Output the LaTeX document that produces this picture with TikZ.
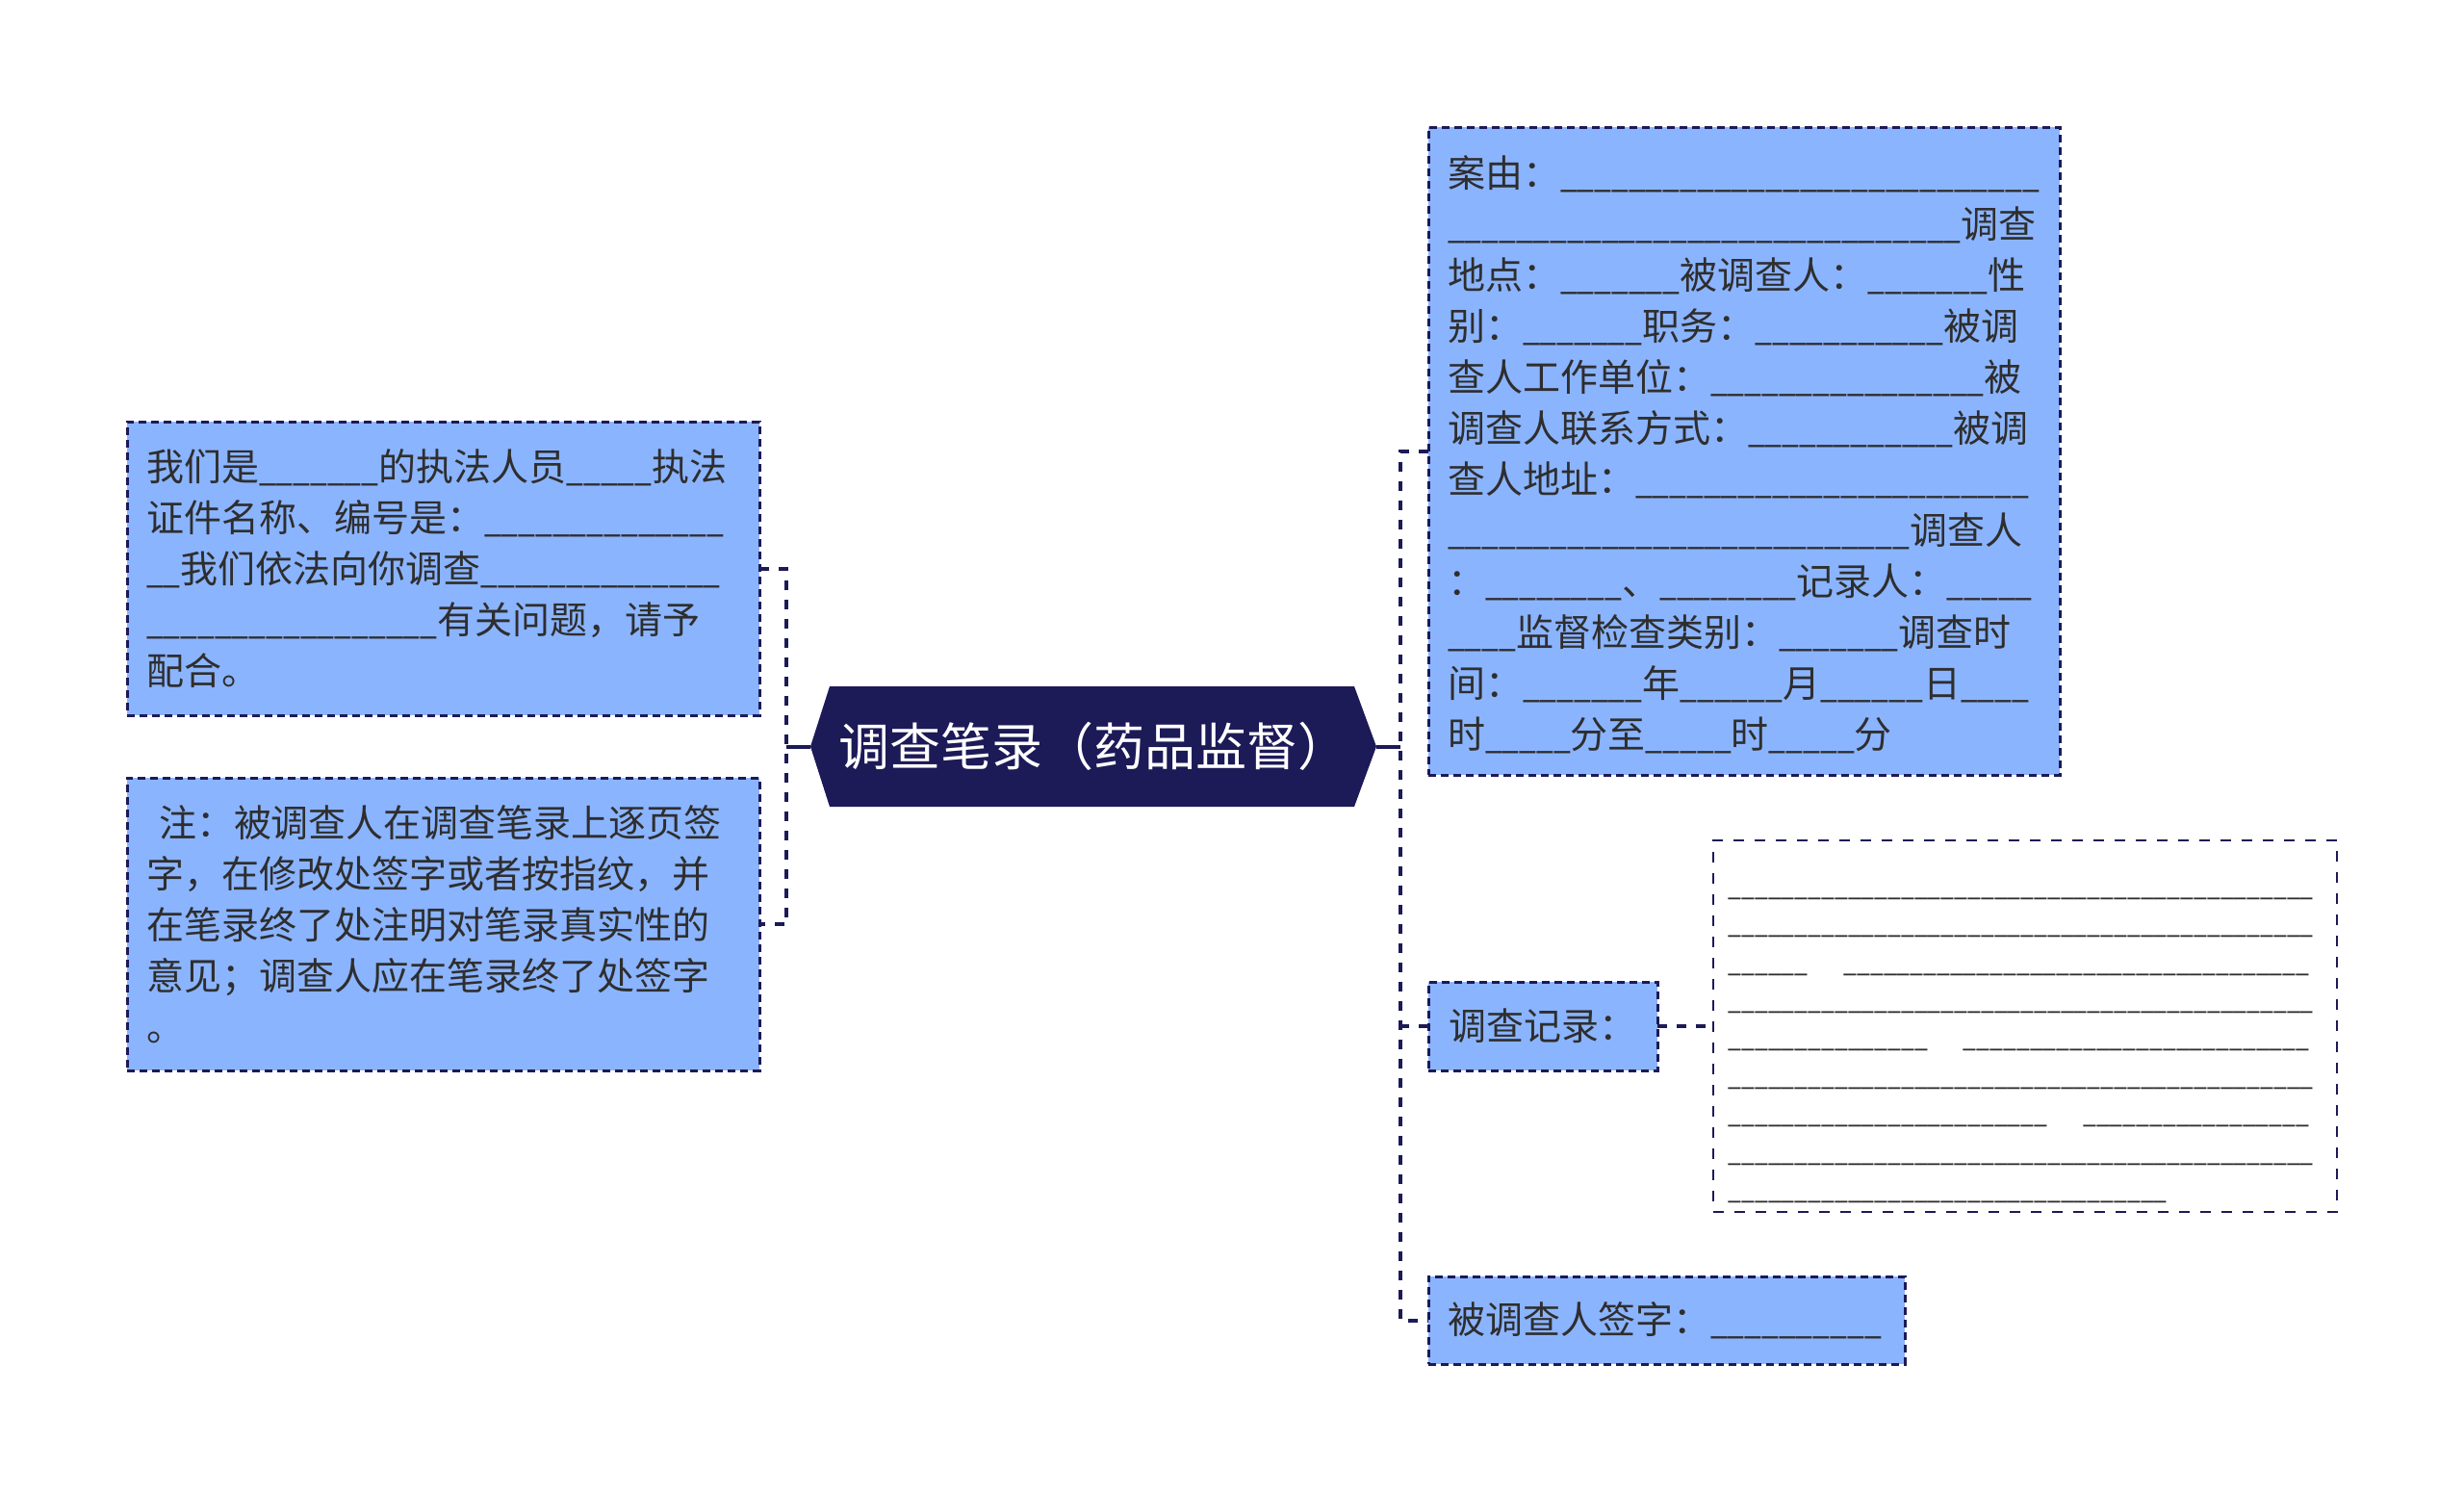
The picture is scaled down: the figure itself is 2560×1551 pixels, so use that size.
\documentclass[tikz,border=0pt]{standalone}
\usepackage{fontspec}
\setmainfont{Noto Sans CJK SC}
\usetikzlibrary{backgrounds}
\definecolor{navy}{HTML}{1C1A57}
\definecolor{boxblue}{HTML}{8BB4FE}
\definecolor{txt}{HTML}{2E2E2E}
\newcommand\usx[1]{\ifnum#1>0 \_\expandafter\usx\expandafter{\the\numexpr#1-1\relax}\fi}
\newcommand\us[1]{\scalebox{0.816}[1]{\usx{#1}}}
\begin{document}
\begin{tikzpicture}[x=1pt,y=-1pt,
  box/.style={rectangle, draw=navy, line width=3pt, dash pattern=on 8pt off 5pt, fill=boxblue, text=txt, inner xsep=20pt, inner ysep=0pt, outer sep=0pt, align=left, font=\fontsize{39}{53}\selectfont},
  wbox/.style={rectangle, draw=navy, line width=2.3pt, dash pattern=on 11pt off 11pt, fill=white, text=txt, inner xsep=15.6pt, inner ysep=0pt, outer sep=0pt, align=left, font=\fontsize{30.3}{39.4}\selectfont},
  rootbox/.style={rectangle, draw=none, text=white, inner sep=0pt, outer sep=0pt, font=\fontsize{53}{60}\selectfont},
  conn/.style={draw=navy, line width=4pt, dash pattern=on 10pt off 10pt},
  stem/.style={draw=navy, line width=4pt}]
\useasboundingbox (0,0) rectangle (2560,1551);

% root
\node[rootbox, minimum width=588pt, minimum height=125pt] (root) at (1136,775.5) {调查笔录（药品监督）};
\begin{scope}[on background layer]
\fill[navy] (root.west) -- ([xshift=20pt]root.north west) -- ([xshift=-23pt]root.north east) -- (root.east) -- ([xshift=-23pt]root.south east) -- ([xshift=20pt]root.south west) -- cycle;
\end{scope}

% left boxes
\node[box, text width=617pt, minimum height=305pt] (L1) at (460.5,590.5) {%
我们是\us{7}的执法人员\us{5}执法\\
证件名称、编号是：\us{14}\\
\us{2}我们依法向你调查\us{14}\\
\us{17}有关问题，请予\\
配合。};
\node[box, text width=617pt, minimum height=304pt] (L2) at (460.5,960) {%
\ 注：被调查人在调查笔录上逐页签\\
字，在修改处签字或者按指纹，并\\
在笔录终了处注明对笔录真实性的\\
意见；调查人应在笔录终了处签字\\
。};

% right boxes
\node[box, text width=616pt, minimum height=673pt] (R1) at (1812,468.5) {%
\rule{0pt}{40pt}案由：\us{28}\\
\us{30}调查\\
地点：\us{7}被调查人：\us{7}性\\
别：\us{7}职务：\us{11}被调\\
查人工作单位：\us{16}被\\
调查人联系方式：\us{12}被调\\
查人地址：\us{23}\\
\us{27}调查人\\
：\us{8}、\us{8}记录人：\us{5}\\
\us{4}监督检查类别：\us{7}调查时\\
间：\us{7}年\us{6}月\us{6}日\us{4}\\
时\us{5}分至\us{5}时\us{5}分};
\node[box, minimum width=238pt, minimum height=92pt] (R2) at (1603,1066) {调查记录：};
\node[box, text width=455pt, minimum height=91pt] (R3) at (1731.5,1371.5) {被调查人签字：\us{10}};
\node[wbox, text width=616.8pt, minimum height=386pt] (W) at (2104,1066) {%
\rule{0pt}{48pt}\us{44}\\
\us{44}\\
\us{6}\hspace{37pt}\us{35}\\
\us{44}\\
\us{15}\hspace{37pt}\us{26}\\
\us{44}\\
\us{24}\hspace{37pt}\us{17}\\
\us{44}\\
\us{33}};

% connectors
\coordinate (lx) at (817,775);
\coordinate (rx) at (1455,775);
\draw[stem] (root.west) -- (root.west -| lx);
\draw[conn] (L1.east) -- (L1.east -| lx) -- (L2.east -| lx) -- (L2.east);
\draw[stem] (root.east) -- (root.east -| rx);
\draw[conn] (R1.west) -- (R1.west -| rx) -- (R3.west -| rx) -- (R3.west);
\draw[conn] (R2.west) -- (R2.west -| rx);
\draw[conn] (R2.east) -- (W.west);
\end{tikzpicture}
\end{document}
